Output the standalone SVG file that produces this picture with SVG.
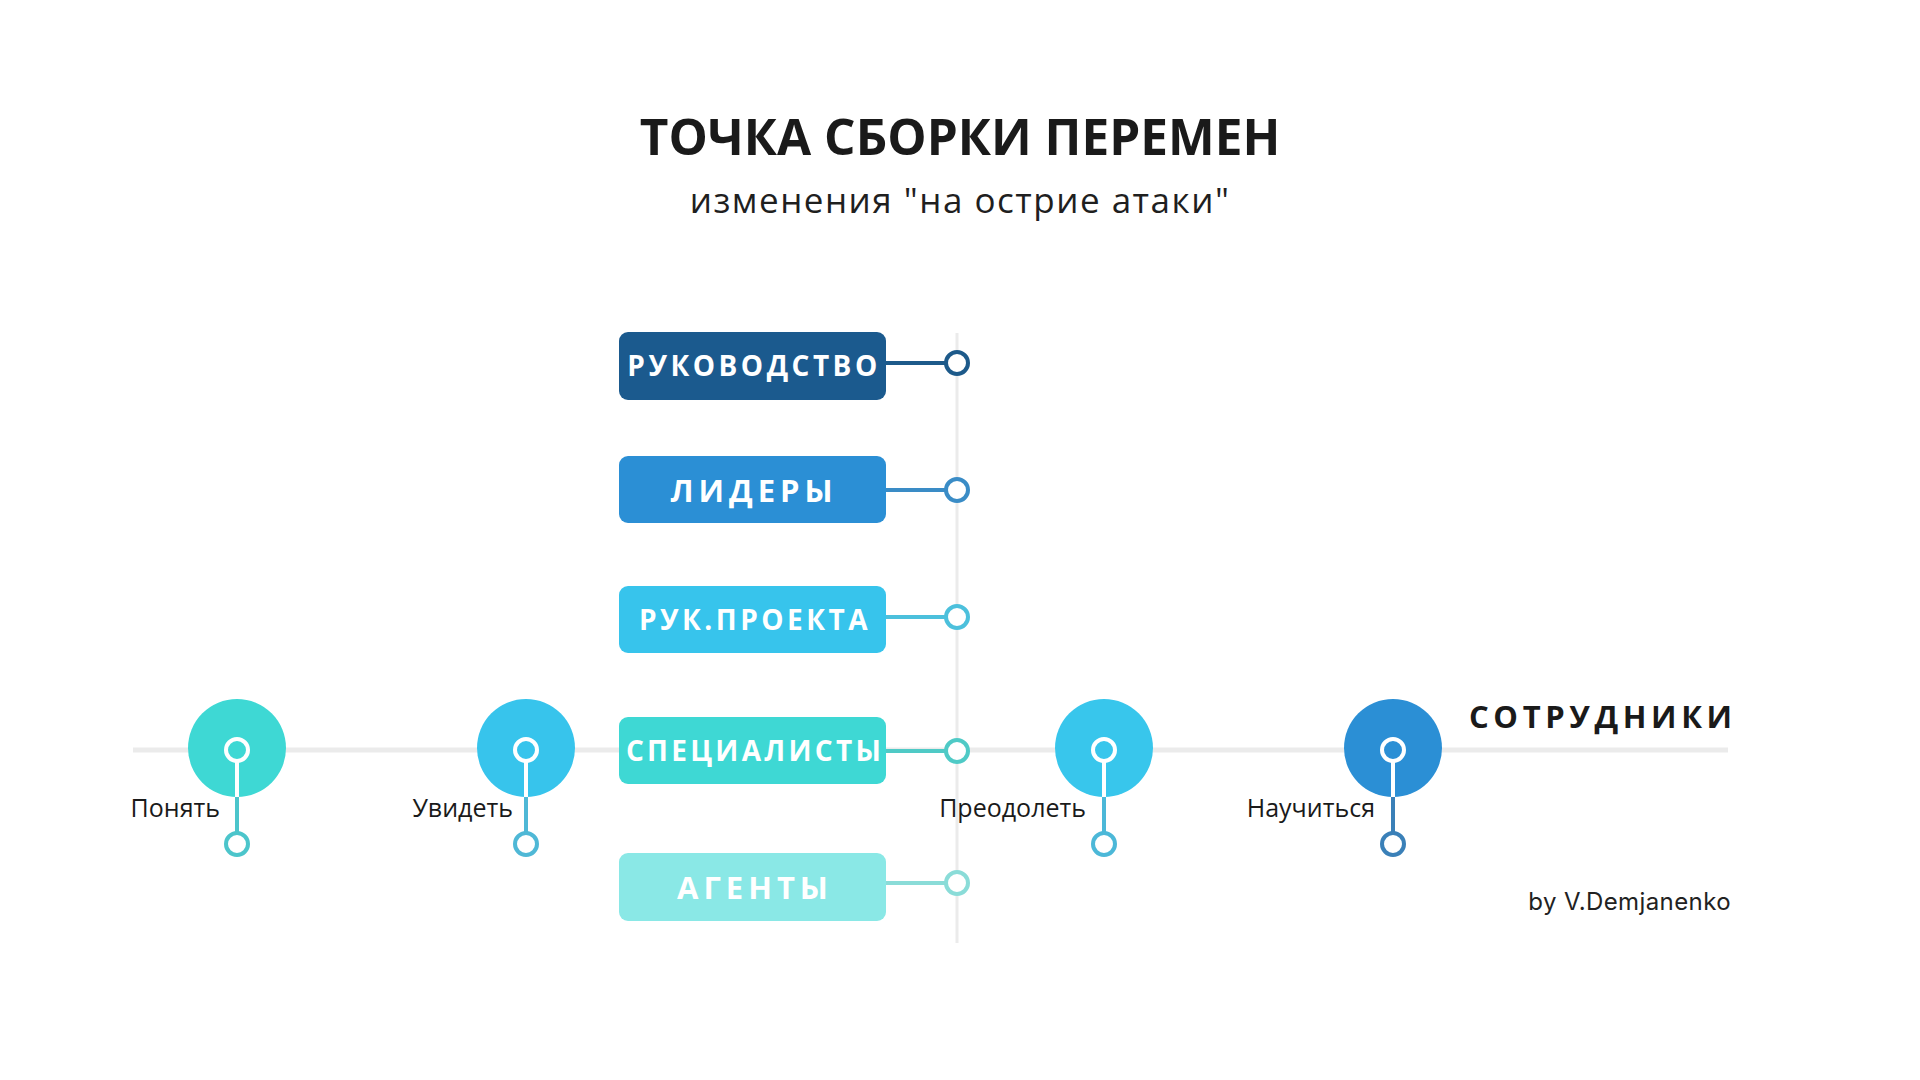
<svg xmlns="http://www.w3.org/2000/svg" width="1920" height="1080" viewBox="0 0 1920 1080">
<style>
.title{font-family:"Open Sans","Liberation Sans",sans-serif;font-weight:700;font-size:49.5px;fill:#1a1a1a;text-anchor:middle}
.sub{font-family:"Open Sans","Liberation Sans",sans-serif;font-size:35px;fill:#1f1f1f;text-anchor:middle;letter-spacing:1.5px}
.bt{font-family:"Open Sans","Liberation Sans",sans-serif;font-weight:700;fill:#ffffff;text-anchor:middle}
.lbl{font-family:"Open Sans","Liberation Sans",sans-serif;font-size:25px;fill:#1a1a1a;text-anchor:end}
.emp{font-family:"Open Sans","Liberation Sans",sans-serif;font-weight:700;font-size:31px;fill:#1a1a1a;letter-spacing:4.6px}
.by{font-family:Inter,"Liberation Sans",sans-serif;font-size:24px;fill:#222;letter-spacing:0.4px}
.dot{fill:#ffffff;stroke-width:4}
.axis{stroke:#ebebeb;fill:none}
</style>
<rect width="1920" height="1080" fill="#ffffff"/>
<text class="title" x="960" y="155">ТОЧКА СБОРКИ ПЕРЕМЕН</text>
<text class="sub" x="960" y="213">изменения "на острие атаки"</text>
<g id="axes">
<line class="axis" x1="957" y1="333" x2="957" y2="943" stroke-width="3"/>
<line class="axis" x1="133" y1="750" x2="1728" y2="750" stroke-width="5"/>
</g>
<g id="connectors">
<line x1="886" y1="363" x2="945" y2="363" stroke="#1d5a8a" stroke-width="4"/>
<line x1="886" y1="490" x2="945" y2="490" stroke="#3a8cc6" stroke-width="4"/>
<line x1="886" y1="617" x2="945" y2="617" stroke="#4cc0dc" stroke-width="4"/>
<line x1="886" y1="751" x2="945" y2="751" stroke="#4fcac6" stroke-width="4"/>
<line x1="886" y1="883" x2="945" y2="883" stroke="#8adcd8" stroke-width="4"/>
</g>
<g id="rukovodstvo">
<rect x="619" y="332" width="267" height="68" rx="9" fill="#1b5a8e"/>
<text class="bt" x="754" y="376" font-size="28" letter-spacing="3.5">РУКОВОДСТВО</text>
<circle class="dot" cx="957" cy="363" r="11" stroke="#1d5a8a"/>
</g>
<g id="lidery">
<rect x="619" y="456" width="267" height="67" rx="9" fill="#2b8fd5"/>
<text class="bt" x="754" y="502" font-size="31" letter-spacing="5">ЛИДЕРЫ</text>
<circle class="dot" cx="957" cy="490" r="11" stroke="#3a8cc6"/>
</g>
<g id="ruk-proekta">
<rect x="619" y="586" width="267" height="67" rx="9" fill="#37c4ec"/>
<text class="bt" x="755" y="630" font-size="28" letter-spacing="3.5">РУК.ПРОЕКТА</text>
<circle class="dot" cx="957" cy="617" r="11" stroke="#4cc0dc"/>
</g>
<g id="specialisty">
<rect x="619" y="717" width="267" height="67" rx="9" fill="#3ed8d4"/>
<text class="bt" x="755" y="761" font-size="28" letter-spacing="3.3">СПЕЦИАЛИСТЫ</text>
<circle class="dot" cx="957" cy="751" r="11" stroke="#4fcac6"/>
</g>
<g id="agenty">
<rect x="619" y="853" width="267" height="68" rx="9" fill="#8ae8e6"/>
<text class="bt" x="755" y="899" font-size="31" letter-spacing="5">АГЕНТЫ</text>
<circle class="dot" cx="957" cy="883" r="11" stroke="#8adcd8"/>
</g>
<g id="ponyat">
<line x1="237" y1="762" x2="237" y2="832" stroke="#4cc5cb" stroke-width="4"/>
<circle class="dot" cx="237" cy="844" r="11" stroke="#4cc5cb"/>
<circle cx="237" cy="748" r="49" fill="#3ed8d4"/>
<line x1="237" y1="761" x2="237" y2="797" stroke="#ffffff" stroke-width="4"/>
<circle cx="237" cy="750" r="11" fill="#3ed8d4" stroke="#ffffff" stroke-width="4"/>
<text class="lbl" x="220" y="817">Понять</text>
</g>
<g id="uvidet">
<line x1="526" y1="762" x2="526" y2="832" stroke="#4fb8d6" stroke-width="4"/>
<circle class="dot" cx="526" cy="844" r="11" stroke="#4fb8d6"/>
<circle cx="526" cy="748" r="49" fill="#37c4ec"/>
<line x1="526" y1="761" x2="526" y2="797" stroke="#ffffff" stroke-width="4"/>
<circle cx="526" cy="750" r="11" fill="#37c4ec" stroke="#ffffff" stroke-width="4"/>
<text class="lbl" x="513" y="817">Увидеть</text>
</g>
<g id="preodolet">
<line x1="1104" y1="762" x2="1104" y2="832" stroke="#4cb8d8" stroke-width="4"/>
<circle class="dot" cx="1104" cy="844" r="11" stroke="#4cb8d8"/>
<circle cx="1104" cy="748" r="49" fill="#38c6ec"/>
<line x1="1104" y1="761" x2="1104" y2="797" stroke="#ffffff" stroke-width="4"/>
<circle cx="1104" cy="750" r="11" fill="#38c6ec" stroke="#ffffff" stroke-width="4"/>
<text class="lbl" x="1086" y="817">Преодолеть</text>
</g>
<g id="nauchitsya">
<line x1="1393" y1="762" x2="1393" y2="832" stroke="#3a80b8" stroke-width="4"/>
<circle class="dot" cx="1393" cy="844" r="11" stroke="#3a80b8"/>
<circle cx="1393" cy="748" r="49" fill="#2b8fd5"/>
<line x1="1393" y1="761" x2="1393" y2="797" stroke="#ffffff" stroke-width="4"/>
<circle cx="1393" cy="750" r="11" fill="#2b8fd5" stroke="#ffffff" stroke-width="4"/>
<text class="lbl" x="1375" y="817">Научиться</text>
</g>
<g id="sotrudniki">
<text class="emp" x="1469" y="728">СОТРУДНИКИ</text>
</g>
<text class="by" x="1731" y="910" text-anchor="end">by V.Demjanenko</text>
</svg>
